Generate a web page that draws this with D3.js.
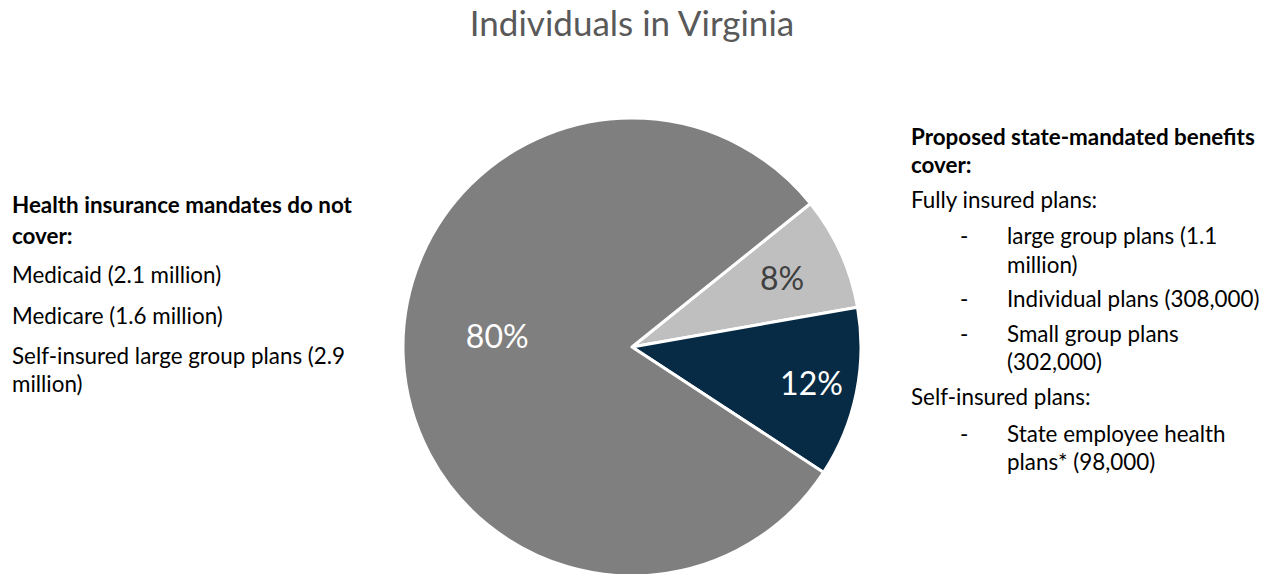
<!DOCTYPE html>
<html>
<head>
<meta charset="utf-8">
<script src="https://cdn.jsdelivr.net/npm/d3@7"></script>
<style>
  body { margin: 0; background: #fff; }
  text { font-family: Lato, "Open Sans", sans-serif; }
</style>
</head>
<body>
<svg width="1268" height="574"></svg>
<script>
const svg = d3.select("svg");
const width = +svg.attr("width");
const height = +svg.attr("height");

// pie data
const labels = ["State-mandated (fully insured)", "State-mandated (other)", "Not covered by mandates"];
const shares = [8, 12, 80];
const colors = ["#bfbfbf", "#082b45", "#7f7f7f"];
const labelColors = ["#404040", "#ffffff", "#ffffff"];

const title = "Individuals in Virginia";

// side notes: [text, bold, indent, baseline]
const leftNotes = [
  ["Health insurance mandates do not", true, 0, 213],
  ["cover:", true, 0, 244],
  ["Medicaid (2.1 million)", false, 0, 283],
  ["Medicare (1.6 million)", false, 0, 324],
  ["Self-insured large group plans (2.9", false, 0, 364],
  ["million)", false, 0, 392]
];
const rightNotes = [
  ["Proposed state-mandated benefits", true, 0, 145],
  ["cover:", true, 0, 173],
  ["Fully insured plans:", false, 0, 208],
  ["large group plans (1.1", false, 1, 244],
  ["million)", false, 2, 273],
  ["Individual plans (308,000)", false, 1, 307],
  ["Small group plans", false, 1, 342],
  ["(302,000)", false, 2, 370],
  ["Self-insured plans:", false, 0, 405],
  ["State employee health", false, 1, 442],
  ["plans* (98,000)", false, 2, 470]
];

const cx = 632, cy = 347, r = 229;
const start = 51.2 * Math.PI / 180;

const pie = d3.pie().sort(null).value(d => d)
  .startAngle(start).endAngle(start + 2 * Math.PI);
const arc = d3.arc().innerRadius(0).outerRadius(r);
const arcs = pie(shares);

const g = svg.append("g").attr("transform", `translate(${cx},${cy})`);

g.selectAll("path")
  .data(arcs)
  .enter()
  .append("path")
  .attr("d", arc)
  .attr("fill", (d, i) => colors[i])
  .attr("stroke", "#fff")
  .attr("stroke-width", 3)
  .attr("stroke-linejoin", "round");

// label placement (radius fraction, angle nudge in degrees)
const labelRadius = [0.72, 0.8, 0.59];
const labelNudge = [0, 0, 7];
g.selectAll("text.pct")
  .data(arcs)
  .enter()
  .append("text")
  .attr("class", "pct")
  .attr("transform", (d, i) => {
    const a = (d.startAngle + d.endAngle) / 2 + labelNudge[i] * Math.PI / 180;
    const rr = r * labelRadius[i];
    return `translate(${rr * Math.sin(a)},${-rr * Math.cos(a)})`;
  })
  .attr("text-anchor", "middle")
  .attr("dy", "0.35em")
  .attr("font-size", 32)
  .attr("fill", (d, i) => labelColors[i])
  .text(d => d.data + "%");

svg.append("text")
  .attr("x", width / 2 - 2)
  .attr("y", 36)
  .attr("text-anchor", "middle")
  .attr("font-size", 35)
  .attr("fill", "#595959")
  .text(title);

svg.append("g")
  .selectAll("text")
  .data(leftNotes)
  .enter()
  .append("text")
  .attr("x", 12)
  .attr("y", d => d[3])
  .attr("font-size", 22.4)
  .attr("font-weight", d => d[1] ? 700 : 400)
  .attr("fill", "#000")
  .text(d => d[0]);

const right = svg.append("g");
right.selectAll("text.note")
  .data(rightNotes)
  .enter()
  .append("text")
  .attr("class", "note")
  .attr("x", d => d[2] ? 1007 : 911)
  .attr("y", d => d[3])
  .attr("font-size", 22.4)
  .attr("font-weight", d => d[1] ? 700 : 400)
  .attr("fill", "#000")
  .text(d => d[0]);

right.selectAll("text.dash")
  .data(rightNotes.filter(d => d[2] === 1))
  .enter()
  .append("text")
  .attr("class", "dash")
  .attr("x", 960)
  .attr("y", d => d[3])
  .attr("font-size", 22.4)
  .attr("fill", "#000")
  .text("-");
</script>
</body>
</html>
